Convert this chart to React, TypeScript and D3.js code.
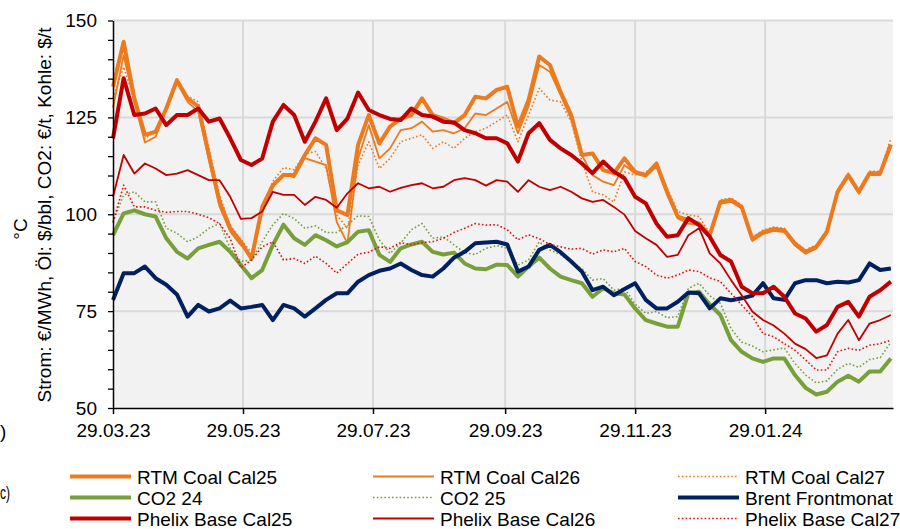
import React, { useEffect, useRef } from 'react';
import * as d3 from 'd3';

// sampled every 5 days from 29.03.23
const startDate = new Date(2023, 2, 29);
const endDate = new Date(2024, 2, 29);
const stepDays = 5;

const rtmCoalCal25 = [
  132.9, 144.5, 129.9, 120.5, 121.3, 127.3, 134.6, 129.9, 127.8, 115.3, 103.2, 96.4, 92.9, 88.5, 101.9, 107.5, 110.1, 110.1, 115.3,
  119.6, 117.9, 101, 99.8, 117.9, 125.6, 118.3, 122.6, 124.7, 125.6, 129.9, 125.6, 124.7, 123.5, 125.6, 130.3, 129.9, 132.1,
  132.9, 122.6, 129.5, 140.7, 138.5, 131.6, 125.6, 115.3, 115.7, 111.4, 110.6, 114.4, 110.9, 110.1, 113.1, 105.8, 99.4, 98.5, 97.6,
  94.6, 103.2, 103.7, 101.9, 93.6, 95.4, 96.2, 95.9, 92.4, 90.3, 91.6, 95.5, 105.8, 110.1, 105.8, 110.6, 110.6, 118,
];
const rtmCoalCal26 = [
  127.5, 141, 129, 118.5, 120, 127, 134, 129, 126.5, 114, 102, 95.5, 92, 89, 100.5, 107, 110.5, 109.5, 114.5,
  113.6, 112.7, 98, 92.5, 114.4, 123, 114.4, 117, 121.7, 122.2, 123.9, 121.3, 121.7, 120.9, 122.2, 126, 125.6, 127.3,
  129, 120.9, 127.8, 138.5, 136.8, 130.8, 124.7, 115.3, 110.1, 108.4, 107.5, 112.7, 110.5, 109.7, 112.3, 105, 98.9, 97.6, 97.2,
  94.1, 102.7, 103.2, 101.4, 93.1, 94.9, 95.7, 95.4, 91.9, 89.8, 91.1, 95, 105.3, 109.6, 105.3, 110.1, 110.1, 117.5,
];
const rtmCoalCal27 = [
  130, 138, 129.5, 119.5, 121.5, 127.5, 134, 130.5, 129, 117, 105, 97, 93.5, 90, 101.5, 108.5, 112, 111.5, 115.5,
  116.2, 111.8, 99.8, 96.4, 112.7, 118.7, 111.8, 114.4, 118.7, 119.6, 120.5, 117, 118.7, 117, 119.6, 121.3, 122.2, 123.9,
  125.6, 118.7, 125.6, 132.5, 129.5, 129, 123.9, 113.6, 105.8, 105, 103.2, 110.9, 110.1, 110.9, 112.7, 106.7, 100.7, 99.8, 99.4,
  95.1, 103.7, 104.2, 102.4, 94.1, 95.9, 96.7, 96.4, 92.9, 90.8, 92.1, 96, 106.3, 110.6, 106.3, 111.1, 111.1, 119.5,
];
const co2_24 = [
  94.6, 100.2, 101, 100, 99.4, 93.8, 90.3, 88.6, 91.2, 92.1, 92.9, 90.3, 86.9, 83.5, 85.6, 92.1, 97.3, 93.8, 92.1,
  94.6, 93.3, 91.7, 92.8, 95.5, 95.9, 89.5, 87.7, 91.2, 92.2, 92.9, 90.3, 89.6, 90.1, 87.3, 86, 85.8, 87,
  86.9, 83.9, 86.5, 88.8, 86, 83.9, 83, 82.2, 78.7, 80.9, 79.6, 79.3, 75.7, 72.7, 71.8, 71, 71, 79.6, 80,
  76.7, 74, 67.5, 64.5, 62.8, 61.9, 62.8, 62.8, 58.5, 55.2, 53.5, 54.2, 56.8, 58.3, 56.8, 59.4, 59.4, 62.8,
];
const co2_25 = [
  98, 105, 105.8, 103.2, 103.2, 96.4, 95.1, 92.9, 94.2, 96.4, 97.6, 91.2, 87.8, 88.2, 92.9, 97.3, 100.2, 98.9, 96.4,
  97, 95.3, 95.3, 97.2, 99.6, 99.4, 93.4, 89.9, 92.5, 96, 97.6, 93.8, 94.2, 92.1, 90.1, 89.6, 91.2, 91.9,
  91.2, 86.9, 88.2, 92.9, 90.8, 89.6, 87.6, 86, 83, 83.4, 80.4, 80.9, 76.8, 74.4, 74.9, 73.3, 73.6, 80.9, 82.2,
  79, 77, 70.5, 67, 66, 64.5, 65, 65.5, 61.5, 58.5, 56.5, 57, 60, 61.5, 60.5, 62.5, 63, 67,
];
const brentFrontmonat = [
  77.9, 84.8, 84.8, 86.5, 83.5, 81.8, 79.3, 73.6, 76.6, 74.9, 75.7, 77.7, 75.7, 76.1, 76.6, 72.7, 76.6, 75.7, 73.6,
  75.7, 77.9, 79.6, 79.6, 82.6, 84.3, 85.4, 86, 87.3, 85.6, 84.3, 83.9, 86, 88.8, 90.3, 92.5, 92.7, 92.9,
  92.2, 85.2, 86.5, 90.8, 92.1, 90.2, 87.8, 85.2, 80.4, 81.3, 79.1, 80.7, 82.2, 77.9, 75.7, 75.7, 77.4, 79.8, 79.6,
  75.7, 78.3, 77.8, 78.3, 79, 82.2, 78.3, 77.9, 82.2, 83, 83, 82.2, 82.6, 82.4, 83, 87.3, 85.6, 86,
];
const phelixCal25 = [
  119.6, 135.1, 125.6, 126, 127.3, 123, 125.6, 125.6, 127.3, 123.9, 124.7, 119.6, 114, 112.7, 114.4, 123.9, 128.2, 125.6, 118.7,
  123.9, 129.9, 121.7, 124.7, 131.4, 126.9, 125.6, 124.6, 124.3, 127.3, 125.6, 125.2, 123.9, 123.7, 121.7, 120.9, 119.6, 119.6,
  118.3, 113.6, 120.9, 123.5, 119.2, 117, 115.3, 113.1, 110.6, 113.6, 111, 109.3, 104.5, 102.8, 97.6, 94.2, 94.6, 99, 97.2,
  94.2, 89.5, 87.8, 81.3, 79.6, 79.6, 81.3, 78.7, 74.4, 73.1, 69.7, 71.4, 76.1, 77.4, 73.6, 78.7, 80.4, 82.6,
];
const phelixCal26 = [
  104.5, 115.3, 110.5, 113.1, 111.8, 110.1, 110.5, 111.4, 110.1, 108.8, 108.8, 104.5, 98.8, 99, 100.7, 105.8, 105, 105, 102.4,
  104.5, 103.7, 101.7, 105.4, 108, 106.7, 107.1, 105.8, 106.8, 107.5, 108, 106.7, 107.1, 108.8, 109.3, 108.8, 107.4, 108.8,
  108.4, 105.8, 108.8, 107.1, 106.2, 107.1, 105.8, 104.1, 103.2, 103.7, 101.9, 99.9, 95.7, 93.8, 92.1, 89, 89.5, 94.6, 96.4,
  89.9, 87.3, 83, 79.1, 74.9, 72.7, 71.3, 69.2, 66.6, 65.2, 62.9, 63.6, 69.2, 72.7, 67.5, 71.8, 72.7, 74,
];
const phelixCal27 = [
  97.9, 107.5, 101.9, 101.9, 101, 100.5, 100.7, 100.7, 100, 99.1, 97.6, 93.7, 86.2, 88.2, 91.6, 92.9, 88.2, 88.6, 87.3,
  89.2, 87.3, 84.8, 87.3, 89.7, 90.2, 91.6, 91.2, 92.7, 92.1, 92.7, 92.9, 93.8, 95.3, 96.4, 97.6, 97.2, 97.3,
  96, 93.4, 94.7, 93.7, 92.2, 91.6, 91, 91.2, 89.7, 90.8, 90.3, 91.2, 87.8, 86.5, 84.3, 83.5, 84.3, 85.6, 85.2,
  83.6, 82.6, 79.6, 76.6, 73.6, 69.2, 68.4, 66.6, 64.9, 62.4, 59.8, 59.8, 64.5, 65.4, 64.9, 66.2, 66.6, 67.5,
];

const xTickLabels = ['29.03.23', '29.05.23', '29.07.23', '29.09.23', '29.11.23', '29.01.24'];
const yTickLabels = [50, 75, 100, 125, 150];

const ORANGE = '#EC7A1E';
const GREEN = '#77A03B';
const NAVY = '#002060';
const RED = '#C00000';

const seriesList = [
  { name: 'RTM Coal Cal25', values: rtmCoalCal25, color: ORANGE, width: 4, dash: null },
  { name: 'RTM Coal Cal26', values: rtmCoalCal26, color: ORANGE, width: 1.8, dash: null },
  { name: 'RTM Coal Cal27', values: rtmCoalCal27, color: ORANGE, width: 1.6, dash: '1.6,2.2' },
  { name: 'CO2 24', values: co2_24, color: GREEN, width: 4, dash: null },
  { name: 'CO2 25', values: co2_25, color: GREEN, width: 1.6, dash: '1.6,2.2' },
  { name: 'Brent Frontmonat', values: brentFrontmonat, color: NAVY, width: 4, dash: null },
  { name: 'Phelix Base Cal25', values: phelixCal25, color: RED, width: 4, dash: null },
  { name: 'Phelix Base Cal26', values: phelixCal26, color: RED, width: 1.8, dash: null },
  { name: 'Phelix Base Cal27', values: phelixCal27, color: '#E01010', width: 1.6, dash: '1.6,2.2' },
];

const FONT = 'Liberation Sans, Arial, sans-serif';

const App = () => {
  const svgRef = useRef(null);

  useEffect(() => {
    document.body.style.margin = '0';
    const svg = d3.select(svgRef.current);
    svg.selectAll('*').remove();

    const x = d3.scaleTime().domain([startDate, endDate]).range([113, 893]);
    const y = d3.scaleLinear().domain([50, 150]).range([408, 20.5]);
    const parseTick = d3.timeParse('%d.%m.%y');
    const tickDates = xTickLabels.map((t) => parseTick(t));

    // plot background
    svg.append('rect')
      .attr('x', 113).attr('y', y(150))
      .attr('width', 893 - 113).attr('height', y(50) - y(150))
      .attr('fill', '#f2f2f2');

    // gridlines
    svg.append('g')
      .selectAll('line')
      .data(yTickLabels.filter((d) => d > 50))
      .join('line')
      .attr('x1', 113).attr('x2', 893)
      .attr('y1', (d) => y(d)).attr('y2', (d) => y(d))
      .attr('stroke', '#d9d9d9').attr('stroke-width', 2);

    svg.append('g')
      .selectAll('line')
      .data(tickDates.slice(1))
      .join('line')
      .attr('x1', (d) => x(d)).attr('x2', (d) => x(d))
      .attr('y1', y(150)).attr('y2', y(50))
      .attr('stroke', '#d9d9d9').attr('stroke-width', 2);

    // series
    const dates = seriesList[0].values.map((_, i) => d3.timeDay.offset(startDate, i * stepDays));
    const line = d3.line()
      .x((d, i) => x(dates[i]))
      .y((d) => y(d));

    seriesList.forEach((s) => {
      svg.append('path')
        .datum(s.values)
        .attr('d', line)
        .attr('fill', 'none')
        .attr('stroke', s.color)
        .attr('stroke-width', s.width)
        .attr('stroke-linejoin', 'round')
        .attr('stroke-dasharray', s.dash);
    });

    // y axis
    const yAxis = d3.axisLeft(y)
      .tickValues(d3.range(50, 151, 5))
      .tickSize(5)
      .tickSizeOuter(0)
      .tickFormat((d) => (yTickLabels.includes(d) ? String(d) : ''))
      .tickPadding(11);
    const gy = svg.append('g').attr('transform', 'translate(113,0)').call(yAxis);
    gy.select('.domain').attr('stroke', '#000').attr('stroke-width', 1.5);
    gy.selectAll('.tick line').attr('stroke', '#000').attr('stroke-width', 1.3);
    gy.selectAll('text')
      .style('font-family', FONT)
      .style('font-size', '19px')
      .attr('fill', '#000');

    // x axis
    const xAxis = d3.axisBottom(x)
      .tickValues(tickDates)
      .tickSize(6)
      .tickSizeOuter(0)
      .tickFormat((d, i) => xTickLabels[i])
      .tickPadding(10);
    const gx = svg.append('g').attr('transform', 'translate(0,408)').call(xAxis);
    gx.select('.domain').attr('stroke', '#000').attr('stroke-width', 1.5);
    gx.selectAll('.tick line').attr('stroke', '#000').attr('stroke-width', 1.5);
    gx.selectAll('text')
      .style('font-family', FONT)
      .style('font-size', '19px')
      .attr('fill', '#000');

    // axis title
    svg.append('text')
      .attr('transform', 'translate(51,215) rotate(-90)')
      .attr('text-anchor', 'middle')
      .style('font-family', FONT)
      .style('font-size', '19px')
      .text('Strom: €/MWh, Öl: $/bbl, CO2: €/t, Kohle: $/t');

    svg.append('text')
      .attr('transform', 'translate(27,229) rotate(-90)')
      .attr('text-anchor', 'middle')
      .style('font-family', FONT)
      .style('font-size', '19px')
      .text('°C');

    // labels at the left edge (only their ends are visible)
    svg.append('text')
      .attr('x', 0).attr('y', 438)
      .style('font-family', FONT)
      .style('font-size', '19px')
      .text(')');
    svg.append('text')
      .attr('x', 0).attr('y', 499)
      .attr('textLength', 10)
      .attr('lengthAdjust', 'spacingAndGlyphs')
      .style('font-family', FONT)
      .style('font-size', '19px')
      .text('c)');

    // legend
    const colX = [70, 373, 678];
    const rowY = [476.5, 497.5, 518.5];
    const leg = svg.append('g');
    seriesList.forEach((s, i) => {
      const cx = colX[i % 3];
      const ry = rowY[Math.floor(i / 3)];
      leg.append('line')
        .attr('x1', cx).attr('x2', cx + 61)
        .attr('y1', ry).attr('y2', ry)
        .attr('stroke', s.color)
        .attr('stroke-width', s.width)
        .attr('stroke-dasharray', s.dash);
      leg.append('text')
        .attr('x', cx + 67).attr('y', ry + 7)
        .style('font-family', FONT)
        .style('font-size', '19px')
        .attr('fill', '#000')
        .text(s.name);
    });
  }, []);

  return (
    <svg
      ref={svgRef}
      width={900}
      height={529}
      style={{ position: 'absolute', left: 0, top: 0, background: '#fff' }}
    />
  );
};

export default App;
